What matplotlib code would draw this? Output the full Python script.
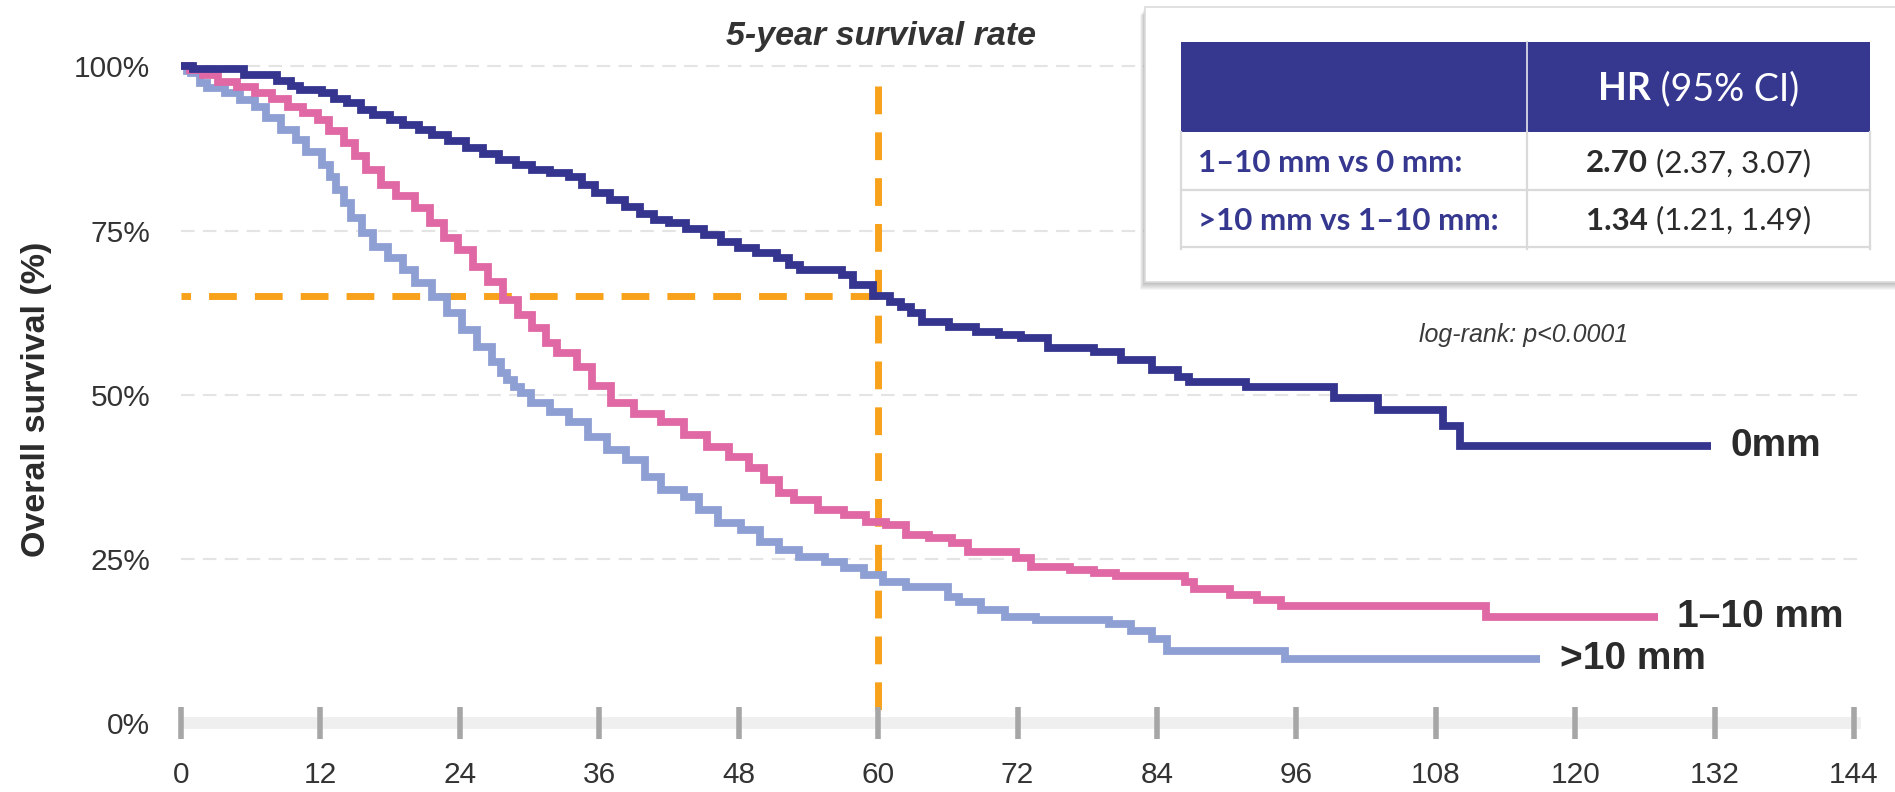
import matplotlib
matplotlib.use("Agg")
import matplotlib.pyplot as plt
from matplotlib.patches import Rectangle
from matplotlib.lines import Line2D

# ---------------------------------------------------------------------------
# Kaplan-Meier estimates (months, overall survival %)
# ---------------------------------------------------------------------------
months_0mm = [0, 1.0, 5.4, 8.3, 9.5, 10.2, 12.1, 13.2, 14.3, 15.5, 16.5, 18.0,
              19.1, 20.5, 21.6, 23.0, 24.5, 26.0, 27.4, 28.8, 30.2, 31.8, 33.4,
              34.5, 35.6, 36.9, 38.2, 39.5, 40.7, 42.0, 43.5, 45.0, 46.5, 47.9,
              49.5, 51.3, 52.3, 53.3, 56.9, 57.8, 59.6, 61.0, 62.0, 62.8, 63.8,
              66.1, 68.4, 70.4, 72.3, 74.6, 78.6, 80.9, 83.6, 85.8, 86.8, 91.7,
              99.2, 103.0, 108.6, 110.1, 131.7]
surv_0mm = [100, 99.6, 98.7, 97.8, 97.0, 96.4, 95.9, 95.0, 94.4, 93.4, 92.6, 91.8,
            91.1, 90.3, 89.6, 88.6, 87.6, 86.6, 85.8, 85.0, 84.2, 83.7, 83.2,
            82.0, 80.7, 79.6, 78.6, 77.6, 76.6, 76.1, 75.3, 74.4, 73.3, 72.4,
            71.6, 70.8, 69.8, 69.0, 68.2, 66.7, 65.0, 64.2, 63.4, 62.4, 61.1,
            60.3, 59.6, 59.1, 58.6, 57.1, 56.5, 55.3, 53.8, 52.7, 51.9, 51.2,
            49.5, 47.7, 45.2, 42.2, 42.2]

months_1_10 = [0, 0.8, 1.9, 3.2, 4.8, 6.4, 7.8, 9.2, 10.5, 11.8, 12.7, 14.0, 15.0,
               15.9, 17.2, 18.5, 20.1, 21.4, 22.6, 23.8, 25.1, 26.4, 27.7, 29.0,
               30.2, 31.4, 32.4, 34.1, 35.4, 37.0, 39.0, 41.3, 43.3, 45.3, 47.2,
               48.9, 50.2, 51.5, 52.8, 54.8, 57.1, 59.0, 60.7, 62.4, 64.4, 66.4,
               67.7, 71.9, 73.2, 76.5, 78.6, 80.5, 86.4, 87.2, 90.3, 92.6, 94.7,
               112.3, 127.1]
surv_1_10 = [100, 99.4, 98.7, 97.7, 96.9, 95.9, 95.1, 93.9, 92.9, 91.9, 90.1, 88.3,
             86.3, 84.2, 81.9, 80.2, 78.4, 76.2, 73.9, 72.0, 69.5, 67.2, 64.4,
             62.1, 60.1, 57.9, 56.3, 54.3, 51.3, 48.8, 47.0, 45.8, 43.8, 42.0,
             40.5, 38.8, 37.0, 35.0, 34.0, 32.4, 31.7, 30.6, 30.2, 28.6, 28.2,
             27.4, 26.1, 25.1, 23.8, 23.3, 22.8, 22.4, 21.5, 20.4, 19.5, 18.7,
             17.8, 16.1, 16.1]

months_gt10 = [0, 0.5, 0.9, 1.6, 2.2, 3.8, 5.1, 6.4, 7.3, 8.6, 9.9, 10.8, 12.1,
               12.8, 13.3, 14.0, 14.6, 15.6, 16.5, 17.8, 19.1, 20.1, 21.6, 22.9,
               24.2, 25.5, 26.8, 27.5, 28.1, 28.7, 29.3, 30.1, 31.8, 33.4, 35.0,
               36.7, 38.3, 39.9, 41.3, 43.3, 44.6, 46.2, 48.2, 49.8, 51.5, 53.2,
               55.4, 57.1, 58.8, 60.4, 62.4, 66.0, 67.0, 68.9, 70.9, 73.6, 79.9,
               81.8, 83.6, 84.9, 95.0, 117.0]
surv_gt10 = [100, 99.3, 99.0, 97.5, 96.7, 96.0, 94.9, 93.9, 92.2, 90.4, 88.8, 87.0,
             85.0, 83.2, 81.2, 79.2, 76.9, 74.6, 72.5, 70.8, 69.0, 67.0, 64.9,
             62.5, 59.9, 57.3, 55.0, 53.3, 52.2, 51.2, 50.3, 48.7, 47.4, 45.8,
             43.6, 41.6, 40.1, 37.5, 35.5, 34.4, 32.4, 30.5, 29.4, 27.6, 26.4,
             25.3, 24.5, 23.6, 22.5, 21.5, 20.7, 19.2, 18.4, 17.2, 16.1, 15.7,
             15.1, 14.0, 12.8, 11.0, 9.75, 9.75]

group_labels = ["0mm", "1\u201310 mm", ">10 mm"]

x_ticks = [0, 12, 24, 36, 48, 60, 72, 84, 96, 108, 120, 132, 144]
y_ticks = [0, 25, 50, 75, 100]
y_tick_labels = ["0%", "25%", "50%", "75%", "100%"]

landmark_month = 60
landmark_survival = 65

hr_header = ("HR", " (95% CI)")
hr_rows = ["1\u201310 mm vs 0 mm:", ">10 mm vs 1\u201310 mm:"]
hr_values = ["2.70", "1.34"]
hr_ci = [" (2.37, 3.07)", " (1.21, 1.49)"]

# ---------------------------------------------------------------------------
# Styling
# ---------------------------------------------------------------------------
W, H, DPI = 1895, 792, 100
C_0 = "#353590"
C_1_10 = "#E068A5"
C_GT10 = "#8E9FD4"
C_ORANGE = "#F8A21C"
C_TEXT = "#2b2b2b"
C_NAVY = "#363890"
BASE_FONT = "Liberation Sans"
TABLE_FONT = "Lato"

plt.rcParams["font.family"] = [BASE_FONT, "DejaVu Sans"]

fig = plt.figure(figsize=(W / DPI, H / DPI), dpi=DPI)
fig.patch.set_facecolor("white")


def fx(x):
    return x / W


def fy(y):
    return 1 - y / H


# axes: y range -5..105, x range 0..144.6
Y_LO, Y_HI = -5, 105
ax = fig.add_axes([fx(181), 0.0457, (1861 - 181) / W, 0.9118])
ax.set_xlim(0, 144.6)
ax.set_ylim(Y_LO, Y_HI)
for sp in ax.spines.values():
    sp.set_visible(False)
ax.spines["bottom"].set_position(("data", 0))

# horizontal dashed grid
for yv in y_ticks[1:]:
    ax.axhline(yv, color="#E4E4E4", lw=1.5, linestyle=(0, (6.5, 4)), zorder=0.6)

# light band along the time axis
ax.axhline(0, color="#EFEFEF", lw=8.5, zorder=0.8, solid_capstyle="butt")

ax.set_xticks(x_ticks)
ax.set_xticklabels([str(v) for v in x_ticks])
ax.set_yticks(y_ticks)
ax.set_yticklabels(y_tick_labels)
ax.tick_params(axis="x", direction="inout", length=23, width=4,
               color="#A6A6A6", labelsize=21.5, labelcolor="#333333", pad=16)
ax.tick_params(axis="y", length=0, labelsize=21.5, labelcolor="#333333", pad=22)

# 5-year landmark guides
ax.plot([landmark_month, 0], [landmark_survival, landmark_survival],
        color=C_ORANGE, lw=5, dashes=(4.0, 2.6), zorder=1.2,
        dash_capstyle="butt")
ax.plot([landmark_month, landmark_month], [97, 0],
        color=C_ORANGE, lw=5, dashes=(4.0, 2.6), zorder=1.2,
        dash_capstyle="butt")

# survival curves
series = [
    (months_gt10, surv_gt10, C_GT10, group_labels[2]),
    (months_1_10, surv_1_10, C_1_10, group_labels[1]),
    (months_0mm, surv_0mm, C_0, group_labels[0]),
]
for t, s, col, lab in series:
    ax.step(t, s, where="post", color=col, lw=5.6, zorder=3,
            solid_joinstyle="miter", solid_capstyle="butt")
    ax.text(t[-1] + 1.7, s[-1], lab, ha="left", va="center",
            fontsize=28, fontweight="bold", color=C_TEXT, zorder=4)

# titles and annotations
fig.text(fx(881), fy(37), "5-year survival rate", ha="center", va="center",
         fontsize=24.5, fontweight="bold", fontstyle="italic", color="#333333")
fig.text(fx(37), fy(399), "Overall survival (%)", rotation=90, ha="center",
         va="center", fontsize=24.5, fontweight="bold", color=C_TEXT)
fig.text(fx(1524), fy(335), "log-rank: p<0.0001", ha="center", va="center",
         fontsize=18, fontstyle="italic", color="#3a3a3a")

# ---------------------------------------------------------------------------
# Hazard-ratio table panel
# ---------------------------------------------------------------------------


def frect(x0, y0, x1, y1, **kw):
    r = Rectangle((fx(x0), fy(y1)), (x1 - x0) / W, (y1 - y0) / H,
                  transform=fig.transFigure, **kw)
    fig.add_artist(r)
    return r


def fline(x0, y0, x1, y1, **kw):
    ln = Line2D([fx(x0), fx(x1)], [fy(y0), fy(y1)],
                transform=fig.transFigure, **kw)
    fig.add_artist(ln)
    return ln


# soft drop shadow
for i in range(1, 9):
    frect(1145 - i * 0.6, 7 + i, 1905, 282 + i, facecolor="black",
          edgecolor="none", alpha=0.035, zorder=5)
frect(1145, 7, 1905, 282, facecolor="white", edgecolor="#DCDCDC", lw=1.2,
      zorder=6)

TX0, TXM, TX1 = 1181, 1527, 1870
TY0, TY1, TY2, TY3 = 42, 132, 190, 247
frect(TX0, TY0, TX1, TY1, facecolor=C_NAVY, edgecolor="none", zorder=7)
fline(TXM, TY0, TXM, TY1, color="#D8D8E8", lw=1.3, zorder=8)
grid_kw = dict(color="#DADADA", lw=1.6, zorder=8)
fline(TX0, TY2, TX1, TY2, **grid_kw)
fline(TX0, TY3, TX1, TY3, **grid_kw)
for xv in (TX0, TXM, TX1):
    fline(xv, TY1, xv, TY3 + 2, **grid_kw)

renderer = fig.canvas.get_renderer()
TABLE_SIZE = 22.5
HEADER_SIZE = 27


def mixed_text(xc, yc, parts, size):
    arts = []
    base = yc + 0.36 * size * DPI / 72
    for s, weight, col in parts:
        arts.append(fig.text(0, fy(base), s, ha="left", va="baseline",
                             fontsize=size, fontweight=weight, color=col,
                             family=[TABLE_FONT, "DejaVu Sans"], zorder=9))
    widths = [a.get_window_extent(renderer).width for a in arts]
    x = xc - sum(widths) / 2
    for a, w in zip(arts, widths):
        a.set_x(fx(x))
        x += w


col2_center = (TXM + TX1) / 2
mixed_text(col2_center, (TY0 + TY1) / 2,
           [(hr_header[0], "bold", "white"), (hr_header[1], "normal", "white")],
           HEADER_SIZE)
row_centers = [(TY1 + TY2) / 2, (TY2 + TY3) / 2]
for lab, val, ci, yc in zip(hr_rows, hr_values, hr_ci, row_centers):
    fig.text(fx(1198), fy(yc + 0.36 * TABLE_SIZE * DPI / 72), lab,
             ha="left", va="baseline", fontsize=TABLE_SIZE, fontweight="bold",
             color=C_NAVY, family=[TABLE_FONT, "DejaVu Sans"], zorder=9)
    mixed_text(col2_center, yc,
               [(val, "bold", C_TEXT), (ci, "normal", C_TEXT)], TABLE_SIZE)

fig.savefig("out.png", dpi=DPI, facecolor="white")
